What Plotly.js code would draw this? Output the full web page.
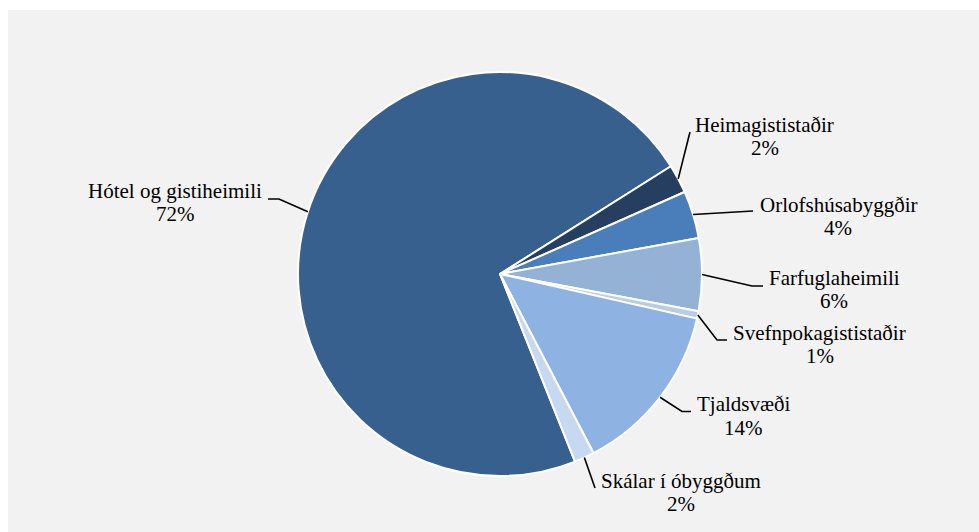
<!DOCTYPE html>
<html>
<head>
<meta charset="utf-8">
<script src="https://cdn.plot.ly/plotly-3.0.1.min.js"></script>
<style>html,body{margin:0;padding:0;background:#fff;}#chart{width:979px;height:532px;}</style>
</head>
<body>
<div id="chart"></div>
<script>
// Data
var categories = ["Hótel og gistiheimili", "Heimagististaðir", "Orlofshúsabyggðir", "Farfuglaheimili", "Svefnpokagististaðir", "Tjaldsvæði", "Skálar í óbyggðum"];
var shares = [72.1, 2.3, 3.8, 5.8, 0.6, 13.8, 1.6];
var colors = ["#37608f", "#263f60", "#4a7ebb", "#94b2d6", "#b9cde5", "#8eb3e2", "#c6d9f1"];

// Layout geometry (pixels)
var W = 979, H = 532;
var CX = 500, CY = 274, R = 202;
var ROT = 158.2;
var FS = 21, LINE_GAP = 23.5;
// per label: [elbowX, elbowY, endX, endY, textCenterX, nameBaselineY]
var labelPos = [
  [279, 199, 268, 199, 175, 198],
  [690, 132, 690, 132, 764.5, 132],
  [753, 211, 753, 211, 838, 212],
  [752, 286, 763, 286, 834, 285],
  [717, 340, 727, 340, 819.5, 340],
  [682, 411.5, 691, 411.5, 743, 411.5],
  [595, 488, 595, 488, 681, 488]
];

function px(x){ return x / W; }
function py(y){ return 1 - y / H; }

var total = shares.reduce(function(a,b){return a+b;}, 0);
var annotations = [];
var shapes = [{
  type: 'rect', xref: 'paper', yref: 'paper',
  x0: px(8), x1: 1, y0: 0, y1: py(10),
  fillcolor: '#f2f2f2', line: {width: 0}, layer: 'below'
}];

var cum = 0;
for (var i = 0; i < categories.length; i++) {
  var mid = (ROT + (cum + shares[i] / 2) * 360 / total) * Math.PI / 180;
  cum += shares[i];
  var ax = CX + R * Math.sin(mid), ay = CY - R * Math.cos(mid);
  var p = labelPos[i];
  shapes.push({
    type: 'path', xref: 'paper', yref: 'paper',
    path: 'M ' + px(ax) + ' ' + py(ay) + ' L ' + px(p[0]) + ' ' + py(p[1]) + ' L ' + px(p[2]) + ' ' + py(p[3]),
    line: {color: '#000000', width: 1.6}
  });
  var pct = Math.round(shares[i] / total * 100) + '%';
  var font = {family: 'Liberation Serif, Times New Roman, serif', size: FS, color: '#000000'};
  annotations.push({
    xref: 'paper', yref: 'paper', x: px(p[4]), y: py(p[5] - 0.35 * FS),
    xanchor: 'center', yanchor: 'middle', text: categories[i], showarrow: false, font: font
  });
  annotations.push({
    xref: 'paper', yref: 'paper', x: px(p[4]), y: py(p[5] + LINE_GAP - 0.35 * FS),
    xanchor: 'center', yanchor: 'middle', text: pct, showarrow: false, font: font
  });
}

var trace = {
  type: 'pie',
  labels: categories,
  values: shares,
  sort: false,
  direction: 'clockwise',
  rotation: ROT,
  marker: {colors: colors, line: {color: '#ffffff', width: 2}},
  textinfo: 'none',
  hoverinfo: 'label+percent',
  showlegend: false,
  domain: {
    x: [(CX - R) / W, (CX + R) / W],
    y: [(H - CY - R) / H, (H - CY + R) / H]
  }
};

var layout = {
  width: W, height: H,
  margin: {l: 0, r: 0, t: 0, b: 0},
  paper_bgcolor: '#ffffff',
  plot_bgcolor: 'rgba(0,0,0,0)',
  showlegend: false,
  shapes: shapes,
  annotations: annotations
};

Plotly.newPlot('chart', [trace], layout, {displayModeBar: false, staticPlot: true});
</script>
</body>
</html>
